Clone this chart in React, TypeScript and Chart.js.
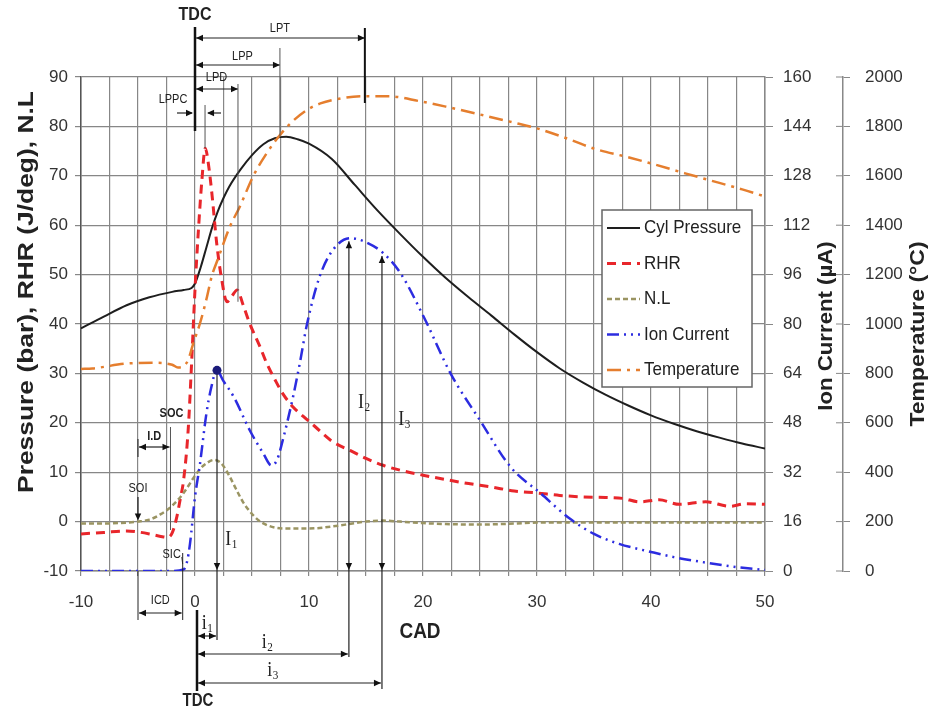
import React, { useEffect, useRef } from 'react';
import { Chart, registerables } from 'chart.js';

Chart.register(...registerables);

// ---------- data ----------
const cadP = [-10, -8, -6, -4, -2, -1, -0.3, 0, 0.5, 1, 1.5, 2, 2.5, 3, 4, 5, 6, 7, 8, 9, 10, 12, 14, 16, 18, 20, 22, 24, 26, 28, 30, 32, 34, 36, 38, 40, 42, 44, 46, 48, 50];
const pressure = [39.1, 41.5, 43.8, 45.4, 46.5, 46.9, 47.3, 48.2, 51.5, 55.5, 59.5, 62.8, 65.5, 67.8, 71.3, 74.2, 76.4, 77.6, 77.9, 77.4, 76.5, 73.4, 68.2, 63.0, 58.2, 53.6, 49.3, 45.4, 41.7, 37.9, 34.3, 31.0, 28.2, 25.7, 23.5, 21.5, 19.8, 18.3, 17.0, 15.8, 14.8];

const cadR = [-10, -8, -6, -5, -4, -3, -2.4, -2, -1.6, -1.3, -1, -0.6, -0.3, 0, 0.3, 0.6, 0.9, 1.2, 1.5, 1.9, 2.3, 2.8, 3.2, 3.7, 4.2, 4.8, 5.7, 6.3, 7, 7.7, 8.6, 9.5, 10.5, 12, 13.6, 15, 16.5, 18, 20, 22, 24, 26, 28, 30, 32, 34, 36, 37.5, 39, 40.7, 42.5, 44.8, 46.9, 48.3, 50];
const rhr = [-2.5, -2.2, -1.9, -2.1, -2.5, -3.0, -3.2, -2.3, 0.9, 4.5, 8.4, 18.5, 32, 47, 59, 69, 75.6, 72, 66, 56.4, 49.6, 44.5, 45.5, 46.9, 44, 40.1, 35.4, 32, 28.8, 25.9, 23.2, 21.3, 19.3, 16.3, 14.4, 12.8, 11.4, 10.4, 9.4, 8.5, 7.7, 7.0, 6.2, 5.8, 5.3, 5.0, 4.9, 4.7, 4.0, 4.4, 3.5, 4.0, 3.1, 3.6, 3.5];

const cadN = [-10, -8, -6, -5, -4, -3, -2, -1, 0, 0.5, 1, 1.7, 2.3, 3, 3.6, 4.2, 4.8, 5.5, 6.3, 7, 8, 10, 12, 13.8, 15, 16.5, 18, 20, 22, 25, 28, 30, 35, 40, 45, 50];
const nl = [-0.4, -0.4, -0.2, 0, 0.4, 1.5, 3.2, 5.8, 9.3, 10.8, 11.8, 12.5, 11.8, 9.3, 6.6, 4.0, 2.1, 0.4, -0.7, -1.2, -1.4, -1.4, -1.0, -0.4, 0, 0.2, 0, -0.3, -0.5, -0.6, -0.4, -0.2, -0.2, -0.2, -0.2, -0.2];

const cadI = [-10, -2, -1, -0.7, -0.44, 0, 0.44, 1, 1.4, 1.9, 2.5, 3.4, 4.8, 6, 6.7, 7.2, 7.7, 8.6, 9.2, 9.8, 10.9, 12.1, 13.6, 15, 16.5, 18, 20.2, 22.4, 25, 27.7, 30.3, 32.9, 35, 37.2, 40.1, 42, 44.5, 47, 48.9, 50];
const ionCurrent = [0, 0, 0.5, 3, 8.8, 24, 34.8, 51, 59, 65, 61.5, 56.4, 45.6, 38, 34.2, 36, 42.4, 56.4, 67.4, 79.5, 95, 104, 107.8, 106.5, 103, 96.6, 81.3, 64.1, 48.8, 33.6, 25.2, 16.9, 12, 8.8, 6.1, 4.5, 2.9, 1.5, 0.7, 0.3];

const cadT = [-10, -9, -6, -3.5, -2, -1.5, -1, -0.6, -0.15, 0.44, 1, 1.46, 2, 3.07, 3.94, 5.1, 6.3, 7.4, 8.5, 9.8, 11, 13, 15, 17, 19.7, 22, 25, 28, 30, 33, 35, 38, 40, 43, 45, 48, 50];
const temperature = [818, 820, 840, 843, 835, 824, 830, 854, 922, 1003, 1100, 1192, 1262, 1395, 1476, 1598, 1692, 1762, 1818, 1866, 1893, 1915, 1922, 1922, 1902, 1880, 1848, 1815, 1792, 1745, 1710, 1675, 1650, 1610, 1584, 1545, 1516];

const seriesNames = ['Cyl Pressure', 'RHR', 'N.L', 'Ion Current', 'Temperature'];

// annotation anchors (CAD)
const LPPC_X = 0.88, LPD_X = 3.77, LPP_X = 7.45, LPT_X = 14.9;
const SOI_X = -5, ID_END_X = -2.15, ICD_END_X = -1.08;
const I1_X = 1.93, I2_X = 13.5, I3_X = 16.4;

// ---------- styles ----------
const SANS = '"Liberation Sans", Arial, Helvetica, sans-serif';
const SERIF = '"Liberation Serif", "Times New Roman", serif';
const COLORS = ['#1e1e1e', '#e8262b', '#9a9462', '#2c2ce0', '#e57e2e'];
const WIDTHS = [2, 3, 2.5, 2.5, 2.5];
const DASHES: number[][] = [[], [9, 6], [5, 3], [12, 5, 2, 5, 2, 5], [14, 6, 3, 6]];

function pts(xs: number[], ys: number[]) {
  return xs.map((x, i) => ({ x, y: ys[i] }));
}

function text(ctx: CanvasRenderingContext2D, s: string, x: number, y: number, font: string, opt: any = {}) {
  const { align = 'center', rot = 0, sx = 1, sy = 1, color = '#222' } = opt;
  ctx.save();
  ctx.translate(x, y);
  if (rot) ctx.rotate(rot);
  ctx.scale(sx, sy);
  ctx.font = font;
  ctx.fillStyle = color;
  ctx.textAlign = align;
  ctx.textBaseline = 'middle';
  ctx.fillText(s, 0, 0);
  ctx.restore();
}

function ln(ctx: CanvasRenderingContext2D, x1: number, y1: number, x2: number, y2: number, w = 1, color = '#222') {
  ctx.save();
  ctx.strokeStyle = color;
  ctx.lineWidth = w;
  ctx.setLineDash([]);
  ctx.beginPath();
  ctx.moveTo(x1, y1);
  ctx.lineTo(x2, y2);
  ctx.stroke();
  ctx.restore();
}

function head(ctx: CanvasRenderingContext2D, x: number, y: number, dir: string, len = 7, hw = 3.2) {
  ctx.save();
  ctx.fillStyle = '#111';
  ctx.beginPath();
  ctx.moveTo(x, y);
  if (dir === 'right') { ctx.lineTo(x - len, y - hw); ctx.lineTo(x - len, y + hw); }
  if (dir === 'left') { ctx.lineTo(x + len, y - hw); ctx.lineTo(x + len, y + hw); }
  if (dir === 'down') { ctx.lineTo(x - hw, y - len); ctx.lineTo(x + hw, y - len); }
  if (dir === 'up') { ctx.lineTo(x - hw, y + len); ctx.lineTo(x + hw, y + len); }
  ctx.closePath();
  ctx.fill();
  ctx.restore();
}

function dbl(ctx: CanvasRenderingContext2D, x1: number, x2: number, y: number) {
  ln(ctx, x1, y, x2, y, 1.2);
  head(ctx, x1, y, 'left');
  head(ctx, x2, y, 'right');
}

function subText(ctx: CanvasRenderingContext2D, main: string, s: string, x: number, y: number, size: number) {
  ctx.save();
  ctx.translate(x, y);
  ctx.scale(1, 1.15);
  ctx.font = `${size}px ${SERIF}`;
  const w1 = ctx.measureText(main).width;
  ctx.font = `${size * 0.62}px ${SERIF}`;
  const w2 = ctx.measureText(s).width;
  const left = -(w1 + w2) / 2;
  ctx.fillStyle = '#222';
  ctx.textBaseline = 'middle';
  ctx.textAlign = 'left';
  ctx.font = `${size}px ${SERIF}`;
  ctx.fillText(main, left, 0);
  ctx.font = `${size * 0.62}px ${SERIF}`;
  ctx.fillText(s, left + w1 + 0.5, size * 0.22);
  ctx.restore();
}

const annotPlugin = {
  id: 'annot',
  afterDraw(chart: any) {
    const ctx: CanvasRenderingContext2D = chart.ctx;
    const xs = chart.scales.x, yl = chart.scales.y, yi = chart.scales.yIon, yt = chart.scales.yTemp;
    const X = (v: number) => xs.getPixelForValue(v);
    const YL = (v: number) => yl.getPixelForValue(v);
    const YI = (v: number) => yi.getPixelForValue(v);
    const ionAt = (x: number) => ionCurrent[cadI.indexOf(x)] ?? 0;
    const x0 = X(0);
    const small = `11px ${SANS}`;

    // temperature axis crossing ticks
    yt.ticks.forEach((t: any) => {
      const y = yt.getPixelForValue(t.value);
      ln(ctx, yt.left - 7, y, yt.left, y, 1, '#888');
    });

    // axis titles
    text(ctx, 'Pressure (bar), RHR (J/deg), N.L', 27, 292, `bold 22px ${SANS}`, { rot: -Math.PI / 2, sx: 1.2 });
    text(ctx, 'Ion Current (\u00b5A)', 826, 326, `bold 20px ${SANS}`, { rot: -Math.PI / 2, sx: 1.11 });
    text(ctx, 'Temperature (\u00b0C)', 918, 334, `bold 20px ${SANS}`, { rot: -Math.PI / 2, sx: 1.15 });
    text(ctx, 'CAD', 420, 632, `bold 19px ${SANS}`, { sy: 1.2 });

    // ---- top annotations ----
    text(ctx, 'TDC', x0, 15, `bold 16px ${SANS}`, { sy: 1.18 });
    ln(ctx, x0, 27, x0, 131, 2.5, '#111');
    // LPT
    dbl(ctx, x0 + 1, X(LPT_X), 38);
    ln(ctx, X(LPT_X), 28, X(LPT_X), 103, 2, '#111');
    text(ctx, 'LPT', (x0 + X(LPT_X)) / 2, 28, small, { sy: 1.2 });
    // LPP
    dbl(ctx, x0 + 1, X(LPP_X), 65);
    ln(ctx, X(LPP_X), 48, X(LPP_X), YL(77.9), 1, '#555');
    text(ctx, 'LPP', (x0 + X(LPP_X)) / 2 + 5, 56, small, { sy: 1.2 });
    // LPD
    dbl(ctx, x0 + 1, X(LPD_X), 89);
    ln(ctx, X(LPD_X), 84, X(LPD_X), YL(44.5), 1, '#555');
    text(ctx, 'LPD', (x0 + X(LPD_X)) / 2, 77, small, { sy: 1.2 });
    // LPPC
    ln(ctx, x0 - 18, 113, x0 - 3, 113, 1.2);
    head(ctx, x0 - 2, 113, 'right');
    ln(ctx, X(LPPC_X) + 16, 113, X(LPPC_X) + 3, 113, 1.2);
    head(ctx, X(LPPC_X) + 2, 113, 'left');
    ln(ctx, X(LPPC_X), 105, X(LPPC_X), YL(75.6), 1, '#555');
    text(ctx, 'LPPC', x0 - 22, 99, small, { sy: 1.2 });

    // ---- bottom annotations ----
    const y0 = YL(0);
    const yBot = YL(-10);
    // SOI
    text(ctx, 'SOI', X(SOI_X), 488, small, { sy: 1.2 });
    ln(ctx, X(SOI_X), 497, X(SOI_X), y0 - 6, 1.2);
    head(ctx, X(SOI_X), y0 - 1, 'down');
    // I.D
    ln(ctx, X(SOI_X), 439, X(SOI_X), 457, 1);
    dbl(ctx, X(SOI_X) + 1, X(ID_END_X) - 1, 447);
    ln(ctx, X(ID_END_X), 427, X(ID_END_X), 530, 1, '#555');
    text(ctx, 'I.D', (X(SOI_X) + X(ID_END_X)) / 2, 436, `bold 11px ${SANS}`, { sy: 1.2 });
    // SOC
    text(ctx, 'SOC', X(ID_END_X) + 1, 413, `bold 11px ${SANS}`, { sy: 1.2 });
    // SIC
    text(ctx, 'SIC', X(ICD_END_X) - 11, 554, small, { sy: 1.2 });
    ln(ctx, X(ICD_END_X) - 1, 557, X(ICD_END_X), 564, 1, '#555');
    // ICD
    ln(ctx, X(SOI_X), yBot, X(SOI_X), 620, 1);
    ln(ctx, X(ICD_END_X), 553, X(ICD_END_X), 620, 1);
    dbl(ctx, X(SOI_X) + 1, X(ICD_END_X) - 1, 613);
    text(ctx, 'ICD', (X(SOI_X) + X(ICD_END_X)) / 2, 600, small, { sy: 1.2 });

    // I1
    const pk1 = ionAt(1.9);
    ln(ctx, X(I1_X), YI(pk1), X(I1_X), 640, 1.2);
    head(ctx, X(I1_X), yBot - 1, 'down');
    ctx.save();
    ctx.fillStyle = '#1b1b7a';
    ctx.beginPath();
    ctx.arc(X(I1_X), YI(pk1), 4.5, 0, Math.PI * 2);
    ctx.fill();
    ctx.restore();
    subText(ctx, 'I', '1', X(I1_X) + 14, 540, 18);
    // I2
    const pk2 = ionAt(13.6);
    ln(ctx, X(I2_X), YI(pk2) + 3, X(I2_X), 657, 1.2);
    head(ctx, X(I2_X), YI(pk2) + 3, 'up');
    head(ctx, X(I2_X), yBot - 1, 'down');
    subText(ctx, 'I', '2', X(I2_X) + 15, 403, 18);
    // I3
    const pk3 = ionAt(16.5);
    ln(ctx, X(I3_X), YI(pk3) + 3, X(I3_X), 689, 1.2);
    head(ctx, X(I3_X), YI(pk3) + 3, 'up');
    head(ctx, X(I3_X), yBot - 1, 'down');
    subText(ctx, 'I', '3', X(I3_X) + 22, 420, 18);
    // i1, i2, i3
    const xb = x0 + 2;
    dbl(ctx, xb + 1, X(I1_X) - 1, 636);
    subText(ctx, 'i', '1', (xb + X(I1_X)) / 2, 624, 18);
    dbl(ctx, xb + 1, X(I2_X) - 1, 654);
    subText(ctx, 'i', '2', (xb + X(I2_X)) / 2 - 6, 643, 18);
    dbl(ctx, xb + 1, X(I3_X) - 1, 683);
    subText(ctx, 'i', '3', (xb + X(I3_X)) / 2 - 17, 671, 18);
    // bottom TDC
    ln(ctx, xb, 610, xb, 691, 2.5, '#111');
    text(ctx, 'TDC', xb + 1, 701, `bold 15px ${SANS}`, { sy: 1.2 });

    // ---- legend ----
    const lx = 602, ly = 210, lw = 150, lh = 177;
    ctx.save();
    ctx.fillStyle = '#ffffff';
    ctx.fillRect(lx, ly, lw, lh);
    ctx.strokeStyle = '#666';
    ctx.lineWidth = 1.5;
    ctx.strokeRect(lx, ly, lw, lh);
    ctx.restore();
    seriesNames.forEach((name, i) => {
      const y = 228 + i * 35.5;
      ctx.save();
      ctx.strokeStyle = COLORS[i];
      ctx.lineWidth = WIDTHS[i];
      ctx.setLineDash(DASHES[i]);
      ctx.beginPath();
      ctx.moveTo(607, y);
      ctx.lineTo(640, y);
      ctx.stroke();
      ctx.restore();
      text(ctx, name, 644, y, `17px ${SANS}`, { align: 'left', sy: 1.08, color: '#222' });
    });
  },
};

export default function App() {
  const ref = useRef<HTMLCanvasElement>(null);

  useEffect(() => {
    if (!ref.current) return;
    const mk = (i: number, xs: number[], ys: number[], axis: string) => ({
      label: seriesNames[i],
      data: pts(xs, ys),
      yAxisID: axis,
      borderColor: COLORS[i],
      backgroundColor: COLORS[i],
      borderWidth: WIDTHS[i],
      borderDash: DASHES[i],
      pointRadius: 0,
      fill: false,
      tension: 0.4,
      cubicInterpolationMode: 'monotone' as const,
    });
    const tickFont = { family: SANS, size: 17 };
    const gridColor = '#878787';
    const plain = (v: any) => String(v);
    const chart = new Chart(ref.current, {
      type: 'line',
      data: {
        datasets: [
          mk(4, cadT, temperature, 'yTemp'),
          mk(3, cadI, ionCurrent, 'yIon'),
          mk(2, cadN, nl, 'y'),
          mk(1, cadR, rhr, 'y'),
          mk(0, cadP, pressure, 'y'),
        ],
      },
      plugins: [annotPlugin],
      options: {
        animation: false,
        responsive: true,
        maintainAspectRatio: false,
        parsing: false as any,
        layout: { padding: { top: 77, left: 0, right: 0, bottom: 0 } },
        plugins: { legend: { display: false }, tooltip: { enabled: false }, title: { display: false } },
        scales: {
          x: {
            type: 'linear',
            min: -10,
            max: 50,
            afterFit: (s: any) => { s.height = 141; },
            ticks: {
              stepSize: 2.5,
              autoSkip: false,
              maxRotation: 0,
              padding: 16,
              color: '#333',
              font: tickFont,
              callback: (v: any) => (Number(v) % 10 === 0 ? String(v) : ''),
            },
            grid: { color: gridColor, lineWidth: 1.2, tickLength: 5 },
            border: { color: '#888', width: 1.5 },
          },
          y: {
            type: 'linear',
            position: 'left',
            min: -10,
            max: 90,
            afterFit: (s: any) => { s.width = 81; },
            ticks: { stepSize: 10, padding: 7, color: '#333', font: tickFont, callback: plain },
            grid: { color: gridColor, lineWidth: 1.2, tickLength: 6 },
            border: { color: '#555', width: 1.5 },
          },
          yIon: {
            type: 'linear',
            position: 'right',
            min: 0,
            max: 160,
            afterFit: (s: any) => { s.width = 78; },
            ticks: { stepSize: 16, padding: 10, color: '#333', font: tickFont, callback: plain },
            grid: { drawOnChartArea: false, color: '#888', tickLength: 8 },
            border: { color: '#888', width: 1.5 },
          },
          yTemp: {
            type: 'linear',
            position: 'right',
            min: 0,
            max: 2000,
            afterFit: (s: any) => { s.width = 87; },
            ticks: { stepSize: 200, padding: 15, color: '#333', font: tickFont, callback: plain },
            grid: { drawOnChartArea: false, color: '#888', tickLength: 7 },
            border: { color: '#888', width: 1.5 },
          },
        },
      } as any,
    });
    return () => chart.destroy();
  }, []);

  return (
    <div style={{ position: 'fixed', left: 0, top: 0, width: 930, height: 712, background: '#fff' }}>
      <canvas ref={ref} />
    </div>
  );
}
